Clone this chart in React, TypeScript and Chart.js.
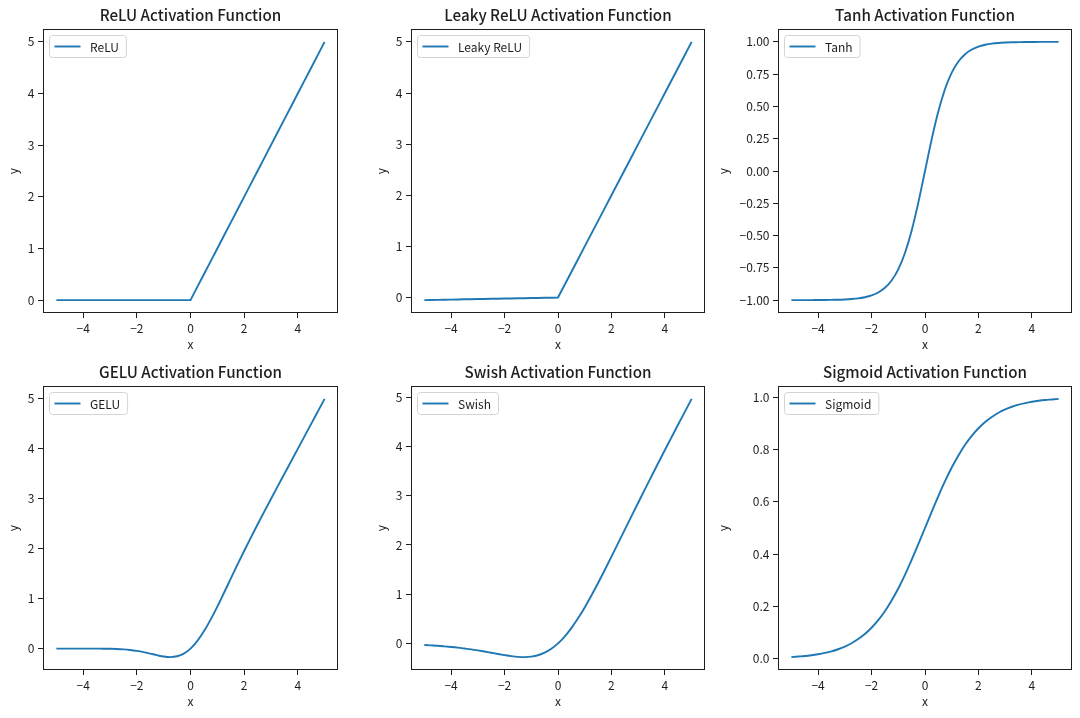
import { useEffect, useRef } from "react";
import { Chart, registerables } from "chart.js";

Chart.register(...registerables);

// Sample positions along x, shared by every panel
const X = [
  -5, -4.75, -4.5, -4.25, -4, -3.75, -3.5, -3.25, -3, -2.75, -2.5, -2.25, -2, -1.75, -1.5, -1.25, -1, -0.75, -0.5, -0.25,
  0, 0.25, 0.5, 0.75, 1, 1.25, 1.5, 1.75, 2, 2.25, 2.5, 2.75, 3, 3.25, 3.5, 3.75, 4, 4.25, 4.5, 4.75, 5,
];

const RELU = [
  0, 0, 0, 0, 0, 0, 0, 0, 0, 0, 0, 0, 0, 0, 0, 0, 0, 0, 0, 0,
  0, 0.25, 0.5, 0.75, 1, 1.25, 1.5, 1.75, 2, 2.25, 2.5, 2.75, 3, 3.25, 3.5, 3.75, 4, 4.25, 4.5, 4.75, 5,
];

const LEAKY_RELU = [
  -0.05, -0.048, -0.045, -0.043, -0.04, -0.038, -0.035, -0.033, -0.03, -0.028, -0.025, -0.023, -0.02, -0.018, -0.015,
  -0.013, -0.01, -0.008, -0.005, -0.003,
  0, 0.25, 0.5, 0.75, 1, 1.25, 1.5, 1.75, 2, 2.25, 2.5, 2.75, 3, 3.25, 3.5, 3.75, 4, 4.25, 4.5, 4.75, 5,
];

const TANH = [
  -1.0, -1.0, -1.0, -1.0, -0.999, -0.999, -0.998, -0.997, -0.995, -0.992, -0.987, -0.978, -0.964, -0.941, -0.905,
  -0.848, -0.762, -0.635, -0.462, -0.245,
  0, 0.245, 0.462, 0.635, 0.762, 0.848, 0.905, 0.941, 0.964, 0.978, 0.987, 0.992, 0.995, 0.997, 0.998, 0.999, 0.999,
  1.0, 1.0, 1.0, 1.0,
];

const GELU = [
  0, 0, 0, 0, 0, 0, -0.001, -0.002, -0.004, -0.008, -0.016, -0.028, -0.046, -0.07, -0.1, -0.132, -0.159, -0.17,
  -0.154, -0.1,
  0, 0.15, 0.346, 0.58, 0.841, 1.118, 1.4, 1.68, 1.955, 2.222, 2.485, 2.742, 2.996, 3.248, 3.499, 3.75, 4.0, 4.25,
  4.5, 4.75, 5.0,
];

const SWISH = [
  -0.033, -0.041, -0.049, -0.06, -0.072, -0.086, -0.103, -0.121, -0.142, -0.165, -0.19, -0.215, -0.238, -0.259,
  -0.274, -0.278, -0.269, -0.241, -0.189, -0.11,
  0, 0.14, 0.311, 0.509, 0.731, 0.972, 1.226, 1.491, 1.762, 2.036, 2.31, 2.585, 2.858, 3.129, 3.397, 3.664, 3.928,
  4.19, 4.451, 4.709, 4.967,
];

const SIGMOID = [
  0.007, 0.009, 0.011, 0.014, 0.018, 0.023, 0.029, 0.037, 0.047, 0.06, 0.076, 0.095, 0.119, 0.148, 0.182, 0.223,
  0.269, 0.321, 0.378, 0.438,
  0.5, 0.562, 0.622, 0.679, 0.731, 0.777, 0.818, 0.852, 0.881, 0.905, 0.924, 0.94, 0.953, 0.963, 0.971, 0.977, 0.982,
  0.986, 0.989, 0.991, 0.993,
];

// Tick values
const X_TICKS = [-4, -2, 0, 2, 4];
const INT_TICKS = [0, 1, 2, 3, 4, 5];
const TANH_TICKS = [-1, -0.75, -0.5, -0.25, 0, 0.25, 0.5, 0.75, 1];
const SIGMOID_TICKS = [0, 0.2, 0.4, 0.6, 0.8, 1];

const TITLES = [
  "ReLU Activation Function",
  "Leaky ReLU Activation Function",
  "Tanh Activation Function",
  "GELU Activation Function",
  "Swish Activation Function",
  "Sigmoid Activation Function",
];
const LABELS = ["ReLU", "Leaky ReLU", "Tanh", "GELU", "Swish", "Sigmoid"];
const SERIES = [RELU, LEAKY_RELU, TANH, GELU, SWISH, SIGMOID];
const Y_TICKS = [INT_TICKS, INT_TICKS, TANH_TICKS, INT_TICKS, INT_TICKS, SIGMOID_TICKS];
const Y_DECIMALS = [0, 0, 2, 0, 0, 1];
const SMOOTH = [false, false, true, true, true, true];

// Grid geometry (page pixels)
const COL_CANVAS_LEFT = [6, 374, 716];
const COL_BOX_LEFT = [43, 411, 778];
const COL_BOX_WIDTH = [295, 294, 294];
const ROW_BOX_TOP = [29, 386];
const BOX_HEIGHT = 284;
const TITLE_BAND = 29;
const X_AXIS_BAND = 39;
const RIGHT_PAD = 6;

const FONT = '"Noto Sans CJK SC", "Noto Sans", sans-serif';
const INK = "#1e1e1e";
const LINE = "#1f77b4";

const fmt = (v: number, d: number) => (v < 0 ? "\u2212" : "") + Math.abs(v).toFixed(d);

// Draws the panel title (centred over the axes), the four spines and a legend box
const axesFrame = {
  id: "axesFrame",
  afterDraw(chart: any, _args: any, opts: any) {
    const { ctx, chartArea: a } = chart;
    ctx.save();

    ctx.fillStyle = INK;
    ctx.font = `500 15.2px ${FONT}`;
    ctx.textAlign = "center";
    ctx.textBaseline = "middle";
    ctx.fillText(opts.title, (a.left + a.right) / 2, a.top - 13.5);

    ctx.strokeStyle = INK;
    ctx.lineWidth = 1;
    ctx.strokeRect(Math.round(a.left) + 0.5, Math.round(a.top) + 0.5, Math.round(a.right - a.left) - 1, Math.round(a.bottom - a.top) - 1);

    const ds = chart.data.datasets[0];
    ctx.font = `12px ${FONT}`;
    const tw = ctx.measureText(ds.label).width;
    const x0 = Math.round(a.left) + 6.5;
    const y0 = Math.round(a.top) + 6.5;
    const w = 5 + 26 + 9.5 + tw + 7.5;
    const h = 22;
    ctx.beginPath();
    ctx.roundRect(x0, y0, w, h, 3);
    ctx.fillStyle = "rgba(255,255,255,0.8)";
    ctx.fill();
    ctx.strokeStyle = "#d4d4d4";
    ctx.stroke();

    ctx.beginPath();
    ctx.moveTo(x0 + 5, y0 + h / 2);
    ctx.lineTo(x0 + 31, y0 + h / 2);
    ctx.strokeStyle = ds.borderColor;
    ctx.lineWidth = 1.9;
    ctx.stroke();

    ctx.fillStyle = INK;
    ctx.textBaseline = "middle";
    ctx.textAlign = "left";
    ctx.fillText(ds.label, x0 + 40.5, y0 + h / 2 + 0.5);
    ctx.restore();
  },
};

function Panel({ index }: { index: number }) {
  const ref = useRef<HTMLCanvasElement>(null);
  const col = index % 3;
  const row = Math.floor(index / 3);
  const left = COL_CANVAS_LEFT[col];
  const yAxisWidth = COL_BOX_LEFT[col] - left;
  const width = yAxisWidth + COL_BOX_WIDTH[col] + RIGHT_PAD;
  const top = ROW_BOX_TOP[row] - TITLE_BAND;
  const height = TITLE_BAND + BOX_HEIGHT + X_AXIS_BAND;

  useEffect(() => {
    const values = SERIES[index];
    const lo = Math.min(...values);
    const hi = Math.max(...values);
    const margin = (hi - lo) * 0.05;
    const xLo = Math.min(...X);
    const xHi = Math.max(...X);
    const xMargin = (xHi - xLo) * 0.05;
    const yTicks = Y_TICKS[index];
    const decimals = Y_DECIMALS[index];

    const chart = new Chart(ref.current as HTMLCanvasElement, {
      type: "line",
      data: {
        datasets: [
          {
            label: LABELS[index],
            data: X.map((x, i) => ({ x, y: values[i] })),
            borderColor: LINE,
            borderWidth: 1.9,
            pointRadius: 0,
            fill: false,
            tension: 0,
            cubicInterpolationMode: SMOOTH[index] ? "monotone" : "default",
          },
        ],
      },
      options: {
        animation: false,
        responsive: false,
        events: [],
        layout: { padding: { left: 0, right: RIGHT_PAD, top: TITLE_BAND, bottom: 0 } },
        plugins: {
          legend: { display: false },
          tooltip: { enabled: false },
          title: { display: false },
          axesFrame: { title: TITLES[index] },
        },
        scales: {
          x: {
            type: "linear",
            min: xLo - xMargin,
            max: xHi + xMargin,
            afterBuildTicks: (axis: any) => {
              axis.ticks = X_TICKS.map((v) => ({ value: v }));
            },
            afterFit: (axis: any) => {
              axis.height = X_AXIS_BAND;
            },
            grid: { drawOnChartArea: false, drawTicks: true, tickLength: 5, color: INK },
            border: { display: false },
            ticks: {
              color: INK,
              padding: 3.5,
              maxRotation: 0,
              font: { family: FONT, size: 12 },
              callback: (v: any) => fmt(Number(v), 0),
            },
            title: {
              display: true,
              text: "x",
              color: INK,
              font: { family: FONT, size: 12 },
              padding: { top: 0, bottom: 0 },
            },
          },
          y: {
            type: "linear",
            min: lo - margin,
            max: hi + margin,
            afterBuildTicks: (axis: any) => {
              axis.ticks = yTicks.map((v) => ({ value: v }));
            },
            afterFit: (axis: any) => {
              axis.width = yAxisWidth;
            },
            grid: { drawOnChartArea: false, drawTicks: true, tickLength: 5, color: INK },
            border: { display: false },
            ticks: {
              color: INK,
              padding: 3.5,
              font: { family: FONT, size: 12 },
              callback: (v: any) => fmt(Number(v), decimals),
            },
            title: {
              display: true,
              text: "y",
              color: INK,
              font: { family: FONT, size: 12 },
              padding: { top: 0, bottom: 0 },
            },
          },
        },
      },
      plugins: [axesFrame],
    } as any);
    return () => chart.destroy();
  }, [index]);

  return (
    <canvas
      ref={ref}
      width={width}
      height={height}
      style={{ position: "absolute", left, top, width, height }}
    />
  );
}

export default function App() {
  return (
    <div style={{ position: "fixed", left: 0, top: 0, width: 1080, height: 718, background: "#fff" }}>
      {TITLES.map((_, i) => (
        <Panel key={i} index={i} />
      ))}
    </div>
  );
}
